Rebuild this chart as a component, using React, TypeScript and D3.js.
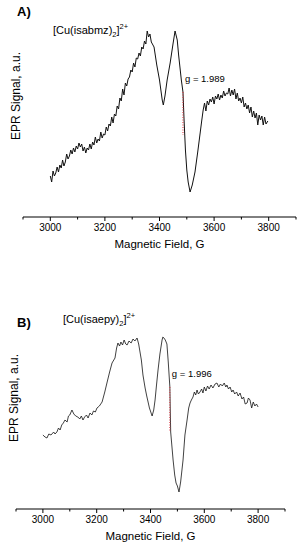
import React from 'react'
import * as d3 from 'd3'

// panel A: [Cu(isabmz)2]2+
const fieldA = [
  3000, 3005, 3010, 3015, 3020, 3025, 3030, 3035, 3040, 3045, 3050, 3055, 3060, 3065, 3070, 3075, 3080, 3085,
  3090, 3095, 3100, 3105, 3110, 3115, 3120, 3125, 3130, 3135, 3140, 3145, 3150, 3155, 3160, 3165, 3170, 3175,
  3180, 3185, 3190, 3195, 3200, 3205, 3210, 3215, 3220, 3225, 3230, 3235, 3240, 3245, 3250, 3255, 3260, 3265,
  3270, 3275, 3280, 3285, 3290, 3295, 3300, 3305, 3310, 3315, 3320, 3325, 3330, 3335, 3340, 3345, 3350, 3355,
  3360, 3365, 3370, 3380, 3390, 3400, 3410, 3414, 3420, 3428, 3439, 3450, 3457, 3465, 3470, 3480, 3486, 3490,
  3495, 3500, 3505, 3512, 3520, 3530, 3540, 3548, 3555, 3560, 3565, 3570, 3575, 3580, 3585, 3590, 3595, 3600,
  3605, 3610, 3615, 3620, 3625, 3630, 3635, 3640, 3645, 3650, 3655, 3660, 3665, 3670, 3675, 3680, 3685, 3690,
  3695, 3700, 3705, 3710, 3715, 3720, 3725, 3730, 3735, 3740, 3745, 3750, 3755, 3760, 3765, 3770, 3775, 3780,
  3785, 3790, 3797,
]
const signalA = [
  -66, -72, -61, -66, -63, -57, -62, -55, -58, -50, -56, -52, -44, -49, -46, -40, -44, -38,
  -42, -36, -39, -33, -37, -34, -41, -37, -43, -38, -40, -34, -39, -32, -35, -27, -33, -29,
  -31, -22, -28, -24, -25, -17, -21, -14, -16, -7, -13, -4, -6, 4, 1, 12, 9, 21,
  15, 27, 24, 31, 33, 40, 38, 47, 43, 52, 51, 57, 54, 63, 61, 69, 66, 79,
  73, 76, 68, 63, 45, 30, 10, 5, 14, 30, 47, 67, 79, 70, 55, 30, 18, -10,
  -40, -60, -72, -82, -75, -62, -42, -25, -10, 0, 7, -1, 9, 5, 11, 8, 13, 6,
  14, 11, 16, 10, 15, 12, 19, 14, 17, 16, 22, 14, 20, 15, 21, 11, 17, 9,
  12, 7, 13, 3, 7, 1, 5, -3, 3, -7, -1, -8, -3, -15, -5, -10, -6, -15,
  -7, -14, -11,
]
const gMarkA = { field: 3486, from: 18, to: -25, label: 'g = 1.989' }

// panel B: [Cu(isaepy)2]2+
const fieldB = [
  3000, 3008, 3015, 3022, 3030, 3040, 3045, 3052, 3058, 3064, 3070, 3076, 3082, 3090, 3095, 3100, 3108, 3115,
  3122, 3130, 3137, 3143, 3149, 3155, 3162, 3168, 3175, 3182, 3188, 3195, 3201, 3210, 3220, 3230, 3238, 3248,
  3257, 3268, 3274, 3279, 3285, 3290, 3296, 3302, 3308, 3313, 3320, 3328, 3335, 3342, 3350, 3356, 3361, 3366,
  3372, 3380, 3386, 3391, 3396, 3401, 3406, 3412, 3417, 3422, 3428, 3435, 3443, 3446, 3450, 3455, 3461, 3466,
  3472, 3475, 3484, 3490, 3495, 3500, 3506, 3512, 3521, 3528, 3536, 3542, 3547, 3552, 3558, 3563, 3568, 3573,
  3578, 3584, 3590, 3595, 3600, 3606, 3612, 3618, 3625, 3632, 3640, 3647, 3654, 3660, 3667, 3674, 3680, 3684,
  3690, 3696, 3702, 3707, 3713, 3720, 3726, 3733, 3740, 3746, 3752, 3759, 3764, 3770, 3776, 3782, 3788, 3794,
  3800,
]
const signalB = [
  -15, -17, -18, -14, -15, -12, -14, -12, -8, -10, -5, -3, 0, -2, 4, 5, 10, 6,
  4, 3, 1, 4, 0, 3, 5, 2, 7, 5, 9, 8, 12, 14, 18, 28, 37, 48,
  57, 62, 72, 77, 74, 78, 75, 80, 76, 75, 79, 77, 81, 79, 82, 76, 68, 60,
  45, 32, 24, 18, 12, 8, 4, 10, 20, 34, 50, 66, 80, 83, 82, 80, 76, 58,
  33, -12, -40, -55, -63, -66, -72, -62, -40, -15, 0, 12, 17, 20, 23, 28, 25, 30,
  26, 28, 31, 27, 33, 29, 34, 31, 35, 32, 36, 37, 33, 36, 34, 37, 33, 35,
  31, 33, 28, 30, 26, 28, 24, 27, 21, 23, 16, 17, 22, 20, 12, 18, 14, 16,
  13,
]
const gMarkB = { field: 3472, from: 33, to: -12, label: 'g = 1.996' }

const xDomain = [2900, 3900]
const majorTicks = [3000, 3200, 3400, 3600, 3800]
const minorTicks = [2900, 3100, 3300, 3500, 3700, 3900]

const font = '"Liberation Sans", Arial, sans-serif'

interface PanelProps {
  field: number[]
  signal: number[]
  gMark: { field: number; from: number; to: number; label: string }
  letter: string
  complex: string
  x0: number
  x1: number
  yMid: number
  axisY: number
  letterY: number
  titleX: number
  titleY: number
  yLabelCenter: number
  yLabelX: number
  strokeW: number
}

const Panel = (p: PanelProps) => {
  const x = d3.scaleLinear().domain(xDomain).range([p.x0, p.x1])
  const y = d3.scaleLinear().domain([-100, 100]).range([p.yMid + 100, p.yMid - 100])
  const pts = p.field.map((f, i) => [f, p.signal[i]] as [number, number])
  const line = d3.line<[number, number]>()
    .x(d => x(d[0]))
    .y(d => y(d[1]))
  const gx = x(p.gMark.field)
  return (
    <g fontFamily={font}>
      <text x={17} y={p.letterY} fontSize={13} fontWeight="bold">{p.letter}</text>
      <text x={p.titleX} y={p.titleY} fontSize={11}>
        [Cu({p.complex})
        <tspan fontSize={7.5} dy={3}>2</tspan>
        <tspan dy={-3}>]</tspan>
        <tspan fontSize={7.5} dy={-5}>2+</tspan>
      </text>
      <path d={line(pts) || ''} fill="none" stroke="#111" strokeWidth={p.strokeW} strokeLinejoin="round" />
      <line x1={gx} x2={gx} y1={y(p.gMark.from)} y2={y(p.gMark.to)} stroke="#e0303a" strokeWidth={1} strokeDasharray="1,1.5" />
      <text x={gx + 2} y={y(p.gMark.from) - 10} fontSize={9.5}>{p.gMark.label}</text>
      <line x1={p.x0} x2={p.x1} y1={p.axisY} y2={p.axisY} stroke="#000" strokeWidth={1} />
      {majorTicks.map(t => (
        <g key={t}>
          <line x1={x(t)} x2={x(t)} y1={p.axisY} y2={p.axisY + 4} stroke="#000" />
          <text x={x(t)} y={p.axisY + 14} fontSize={10} textAnchor="middle">{t}</text>
        </g>
      ))}
      {minorTicks.map(t => (
        <line key={t} x1={x(t)} x2={x(t)} y1={p.axisY} y2={p.axisY + 2.5} stroke="#000" />
      ))}
      <text x={(p.x0 + p.x1) / 2} y={p.axisY + 31} fontSize={11.5} textAnchor="middle">Magnetic Field, G</text>
      <text transform={`translate(${p.yLabelX},${p.yLabelCenter}) rotate(-90)`} fontSize={12} textAnchor="middle">EPR Signal, a.u.</text>
    </g>
  )
}

export default function App() {
  return (
    <svg width={301} height={550} style={{ position: 'absolute', left: 0, top: 0, background: '#fff' }}>
      <rect width={301} height={550} fill="#fff" />
      <Panel field={fieldA} signal={signalA} gMark={gMarkA} letter="A)" complex="isabmz"
        x0={23} x1={296} yMid={110} axisY={217} letterY={16} titleX={53} titleY={34}
        yLabelCenter={96} yLabelX={20} strokeW={1} />
      <Panel field={fieldB} signal={signalB} gMark={gMarkB} letter="B)" complex="isaepy"
        x0={16} x1={285} yMid={420} axisY={509} letterY={327} titleX={63} titleY={323}
        yLabelCenter={398} yLabelX={18} strokeW={0.8} />
    </svg>
  )
}
